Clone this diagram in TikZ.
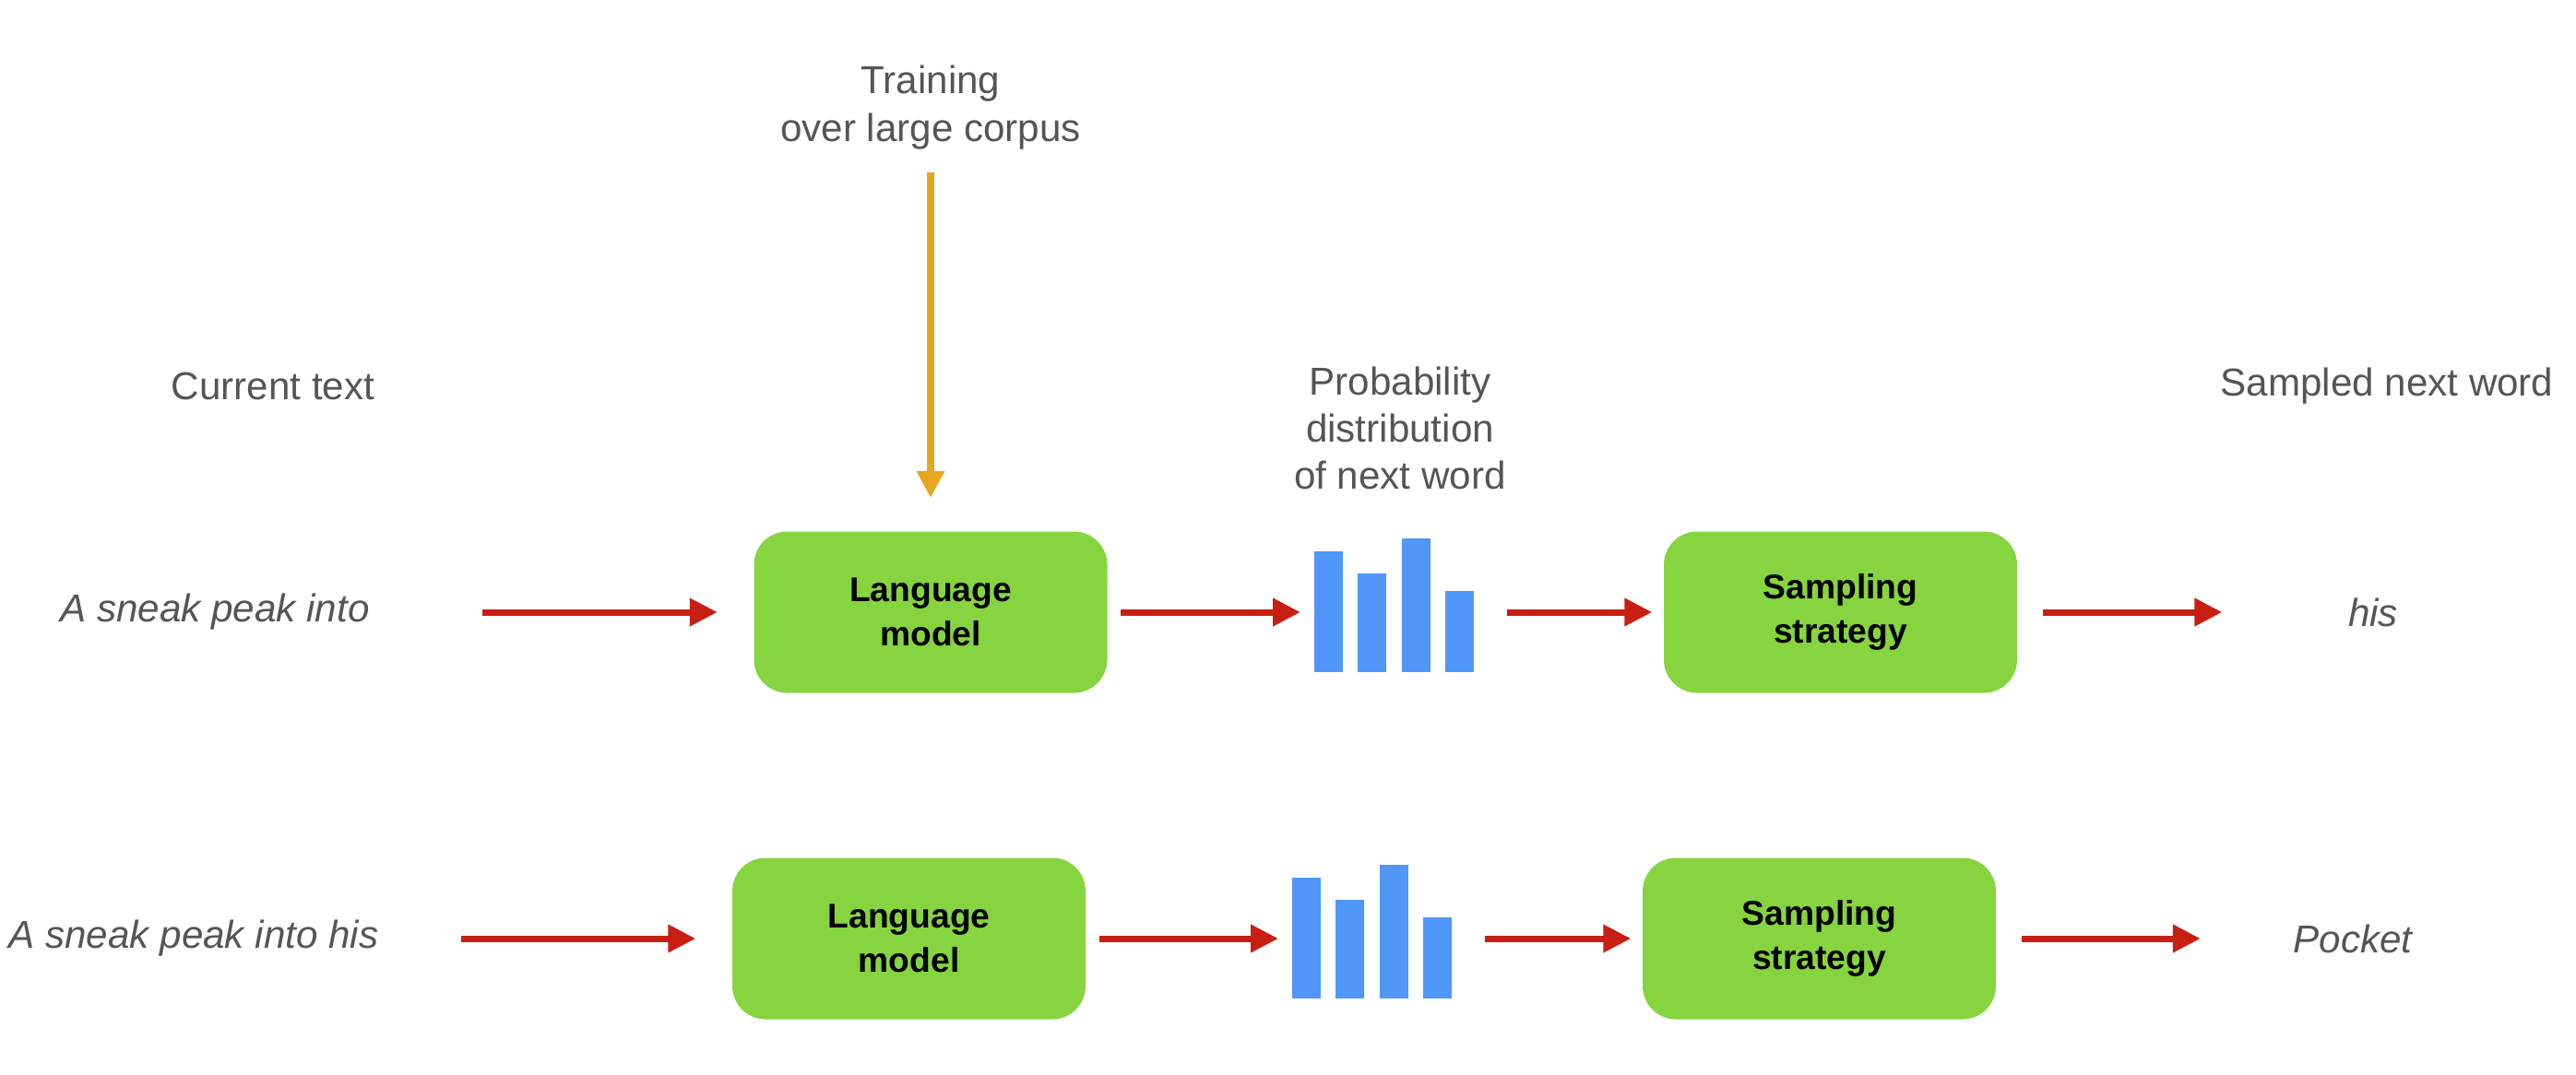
\documentclass[tikz,border=0pt]{standalone}
\usepackage{fontspec}
\setmainfont{Liberation Sans}
\usetikzlibrary{calc,positioning,arrows.meta}

\definecolor{boxgreen}{RGB}{134,212,64}
\definecolor{barblue}{RGB}{80,151,248}
\definecolor{arrowred}{RGB}{200,31,20}
\definecolor{trainorange}{RGB}{232,165,32}
\definecolor{labelgray}{RGB}{85,85,85}

\begin{document}
\begin{tikzpicture}[
	labeltext/.style={text=labelgray, align=center, inner sep=0pt, font=\fontsize{12}{14.6}\selectfont},
	word/.style={labeltext, font=\fontsize{12}{14.6}\selectfont\itshape},
	modelbox/.style={fill=boxgreen, rounded corners=0.36cm, minimum width=3.83cm, minimum height=1.75cm, align=center, font=\fontsize{10.6}{13.7}\selectfont\bfseries},
	probbar/.style={fill=barblue, minimum width=0.31cm, inner sep=0pt, anchor=south west},
	flow/.style={draw=arrowred, line width=2pt, -{Triangle[length=0.3cm,width=0.29cm]}},
	feed/.style={draw=trainorange, line width=2pt, -{Triangle[length=0.29cm,width=0.29cm]}}
]
	\useasboundingbox (0,0) rectangle (27.93,-11.65);

	\node[labeltext] (train) at (10.09,-1.165) {Training\\over large corpus};
	\node[labeltext] (current) at (2.96,-4.19) {Current text};
	\node[labeltext] (prob) at (15.18,-4.645) {Probability\\distribution\\of next word};
	\node[labeltext] (sampled) at (25.88,-4.19) {Sampled next word};

	\node[word] (in1) at (2.33,-6.64) {A sneak peak into};
	\node[modelbox] (lm1) at (10.09,-6.64) {Language\\model};
	\node[probbar, minimum height=1.31cm] (d1a) at (14.24,-7.30) {};
	\node[probbar, minimum height=1.07cm] (d1b) at ([xshift=0.15cm]d1a.south east) {};
	\node[probbar, minimum height=1.45cm] (d1c) at ([xshift=0.15cm]d1b.south east) {};
	\node[probbar, minimum height=0.88cm] (d1d) at ([xshift=0.15cm]d1c.south east) {};
	\node[modelbox] (samp1) at (19.955,-6.64) {Sampling\\strategy};
	\node[word] (out1) at (25.73,-6.64) {his};

	\node[word] (in2) at (2.10,-10.18) {A sneak peak into his};
	\node[modelbox] (lm2) at (9.855,-10.18) {Language\\model};
	\node[probbar, minimum height=1.31cm] (d2a) at (14.00,-10.84) {};
	\node[probbar, minimum height=1.07cm] (d2b) at ([xshift=0.15cm]d2a.south east) {};
	\node[probbar, minimum height=1.45cm] (d2c) at ([xshift=0.15cm]d2b.south east) {};
	\node[probbar, minimum height=0.88cm] (d2d) at ([xshift=0.15cm]d2c.south east) {};
	\node[modelbox] (samp2) at (19.725,-10.18) {Sampling\\strategy};
	\node[word] (out2) at (25.51,-10.18) {Pocket};

	\draw[feed, shorten <=0.24cm, shorten >=0.36cm] (train) -- (lm1);

	\draw[flow, shorten <=1.22cm, shorten >=0.39cm] (in1) -- (lm1);
	\draw[flow, shorten <=0.14cm, shorten >=0.14cm] (lm1.east) -- (lm1.east -| d1a.west);
	\draw[flow, shorten <=0.35cm, shorten >=0.12cm] (samp1.west -| d1d.east) -- (samp1.west);
	\draw[flow, shorten <=0.27cm, shorten >=1.36cm] (samp1) -- (out1);

	\draw[flow, shorten <=0.89cm, shorten >=0.39cm] (in2) -- (lm2);
	\draw[flow, shorten <=0.14cm, shorten >=0.14cm] (lm2.east) -- (lm2.east -| d2a.west);
	\draw[flow, shorten <=0.35cm, shorten >=0.12cm] (samp2.west -| d2d.east) -- (samp2.west);
	\draw[flow, shorten <=0.27cm, shorten >=1.0cm] (samp2) -- (out2);
\end{tikzpicture}
\end{document}
